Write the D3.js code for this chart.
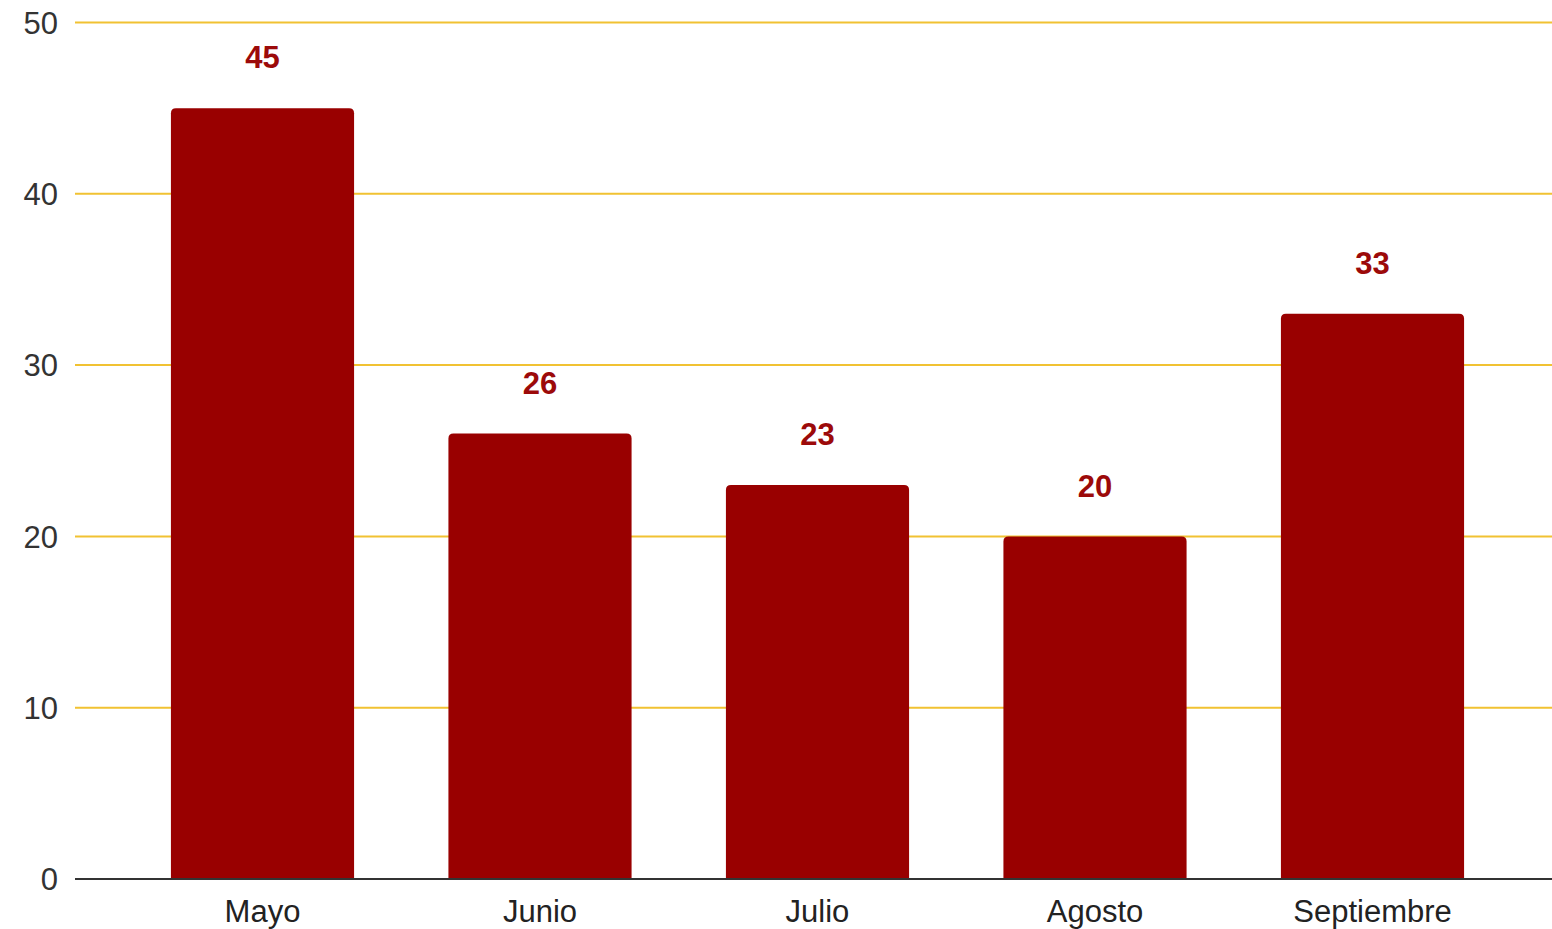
<!DOCTYPE html>
<html>
<head>
<meta charset="utf-8">
<script src="https://cdn.jsdelivr.net/npm/d3@7"></script>
<style>
  html, body { margin: 0; padding: 0; background: #ffffff; }
  svg { display: block; }
</style>
</head>
<body>
<div id="container"></div>
<script>
const categories = ["Mayo", "Junio", "Julio", "Agosto", "Septiembre"];
const values = [45, 26, 23, 20, 33];
const yTicks = [0, 10, 20, 30, 40, 50];

const dimensions = {
	width: 1552,
	height: 929,
	margin: { left: 75, right: 0, top: 22.5, bottom: 50 }
}

const svg = d3.select("#container")
	.append("svg")
	.attr("width", dimensions.width)
	.attr("height", dimensions.height)

const y = d3.scaleLinear()
	.domain([0, 50])
	.range([dimensions.height - dimensions.margin.bottom, dimensions.margin.top])

const x = d3.scaleBand()
	.domain(categories)
	.range([123.75, 1511.25])
	.paddingInner(0.34)
	.paddingOuter(0.17)

const font = "'Liberation Sans', Arial, sans-serif";

// gridlines
svg.append("g")
	.selectAll("line")
	.data(yTicks.filter(d => d > 0))
	.enter()
	.append("line")
	.attr("x1", dimensions.margin.left)
	.attr("x2", dimensions.width)
	.attr("y1", d => y(d))
	.attr("y2", d => y(d))
	.attr("stroke", "#f1c232")
	.attr("stroke-width", 2)

// y tick labels
svg.append("g")
	.selectAll("text")
	.data(yTicks)
	.enter()
	.append("text")
	.attr("x", 58)
	.attr("y", d => y(d))
	.attr("dy", "0.36em")
	.attr("text-anchor", "end")
	.attr("font-family", font)
	.attr("font-size", 31)
	.attr("fill", "#333333")
	.text(d => d)

// bars with rounded top corners
const r = 5;
function barPath(d, i) {
	const x0 = x(categories[i]);
	const w = x.bandwidth();
	const y0 = y(d);
	const yb = y(0);
	return `M${x0},${yb} V${y0 + r} Q${x0},${y0} ${x0 + r},${y0} H${x0 + w - r} Q${x0 + w},${y0} ${x0 + w},${y0 + r} V${yb} Z`;
}

svg.append("g")
	.selectAll("path")
	.data(values)
	.enter()
	.append("path")
	.attr("d", barPath)
	.attr("fill", "#990000")

// value labels
svg.append("g")
	.selectAll("text")
	.data(values)
	.enter()
	.append("text")
	.attr("x", (d, i) => x(categories[i]) + x.bandwidth() / 2)
	.attr("y", d => y(d) - 51)
	.attr("dy", "0.36em")
	.attr("text-anchor", "middle")
	.attr("font-family", font)
	.attr("font-weight", "bold")
	.attr("font-size", 31)
	.attr("fill", "#9c0a0a")
	.text(d => d)

// baseline
svg.append("line")
	.attr("x1", dimensions.margin.left)
	.attr("x2", dimensions.width)
	.attr("y1", y(0))
	.attr("y2", y(0))
	.attr("stroke", "#333333")
	.attr("stroke-width", 2)

// category labels
svg.append("g")
	.selectAll("text")
	.data(categories)
	.enter()
	.append("text")
	.attr("x", d => x(d) + x.bandwidth() / 2)
	.attr("y", y(0) + 32)
	.attr("dy", "0.36em")
	.attr("text-anchor", "middle")
	.attr("font-family", font)
	.attr("font-size", 31)
	.attr("fill", "#222222")
	.text(d => d)
</script>
</body>
</html>
